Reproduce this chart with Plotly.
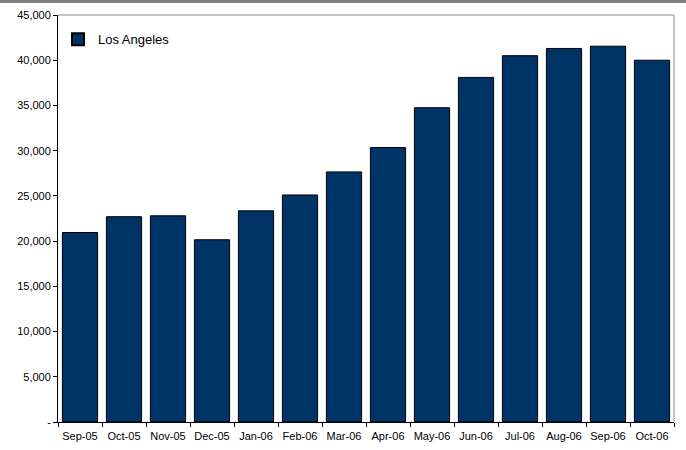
import plotly.graph_objects as go

months = ["Sep-05", "Oct-05", "Nov-05", "Dec-05", "Jan-06", "Feb-06", "Mar-06",
          "Apr-06", "May-06", "Jun-06", "Jul-06", "Aug-06", "Sep-06", "Oct-06"]
los_angeles = [20950, 22700, 22800, 20150, 23350, 25100, 27650,
               30350, 34750, 38100, 40500, 41300, 41550, 40000]
y_tick_values = [0, 5000, 10000, 15000, 20000, 25000, 30000, 35000, 40000, 45000]
y_tick_labels = ["-", "5,000", "10,000", "15,000", "20,000", "25,000",
                 "30,000", "35,000", "40,000", "45,000"]

W, H = 686, 450
ML, MR, MT, MB = 58, 12, 15, 28
plot_w = W - ML - MR
plot_h = H - MT - MB

fig = go.Figure()
fig.add_trace(go.Bar(
    x=months, y=los_angeles, name="Los Angeles",
    marker=dict(color="#003366", line=dict(color="#000000", width=1)),
    showlegend=True,
))

font = dict(family="Liberation Sans, Arial, sans-serif", color="#000000")

fig.update_layout(
    width=W, height=H,
    margin=dict(l=ML, r=MR, t=MT, b=MB, pad=0, autoexpand=False),
    paper_bgcolor="white", plot_bgcolor="white",
    bargap=0.2,
    font=dict(size=11, **font),
    showlegend=True,
    legend=dict(x=0.0, y=0.977, xanchor="left", yanchor="top",
                bgcolor="rgba(0,0,0,0)", font=dict(size=13, **font),
                itemwidth=30, itemsizing="constant"),
    xaxis=dict(
        showline=True, linecolor="#000000", linewidth=1,
        ticks="outside", ticklen=4, tickcolor="#000000",
        tickson="boundaries", showgrid=False, tickangle=0,
        automargin=False, ticklabelstandoff=4,
        tickfont=dict(size=11, **font), mirror=False,
    ),
    yaxis=dict(
        range=[0, 45000], tickvals=y_tick_values, ticktext=y_tick_labels,
        showline=True, linecolor="#000000", linewidth=1,
        ticks="outside", ticklen=4, tickcolor="#000000",
        showgrid=False, zeroline=False, automargin=False,
        tickfont=dict(size=11, **font),
    ),
    shapes=[
        # gray frame on top and right of the plot area
        dict(type="line", xref="paper", yref="paper", x0=0, x1=1, y0=1, y1=1,
             line=dict(color="#8c8c8c", width=1)),
        dict(type="line", xref="paper", yref="paper", x0=1, x1=1, y0=0, y1=1,
             line=dict(color="#8c8c8c", width=1)),
        # gray band across the top edge of the page
        dict(type="rect", xref="paper", yref="paper",
             x0=-ML / plot_w, x1=1 + MR / plot_w,
             y0=1 + (MT - 3) / plot_h, y1=1 + (MT + 1) / plot_h,
             line=dict(width=0), fillcolor="#808080"),
    ],
)

fig.write_html("out.html")
